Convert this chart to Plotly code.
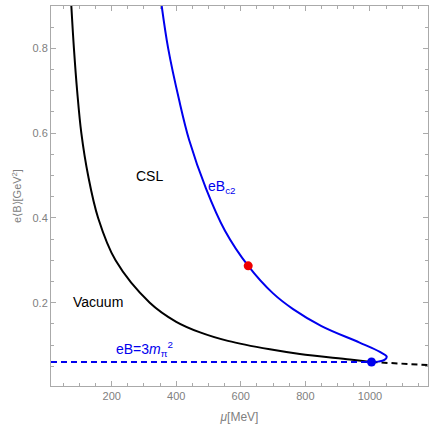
import plotly.graph_objects as go

# Vacuum / CSL boundary (black)
vac_mu = [75, 83, 93, 106, 127, 158, 212, 318, 400, 474, 560, 690, 783, 938, 1005]
vac_eB = [0.90, 0.80, 0.70, 0.60, 0.50, 0.40, 0.30, 0.20, 0.155, 0.13, 0.11, 0.09, 0.079, 0.066, 0.060]
# continuation beyond the blue point (black dashed)
vac_ext_mu = [1005, 1100, 1180]
vac_ext_eB = [0.060, 0.056, 0.053]
# eB_c2 curve (blue)
c2_mu = [355, 375, 409, 440, 492, 551, 623, 700, 762, 850, 968, 1031, 1052, 1045, 1025, 1005]
c2_eB = [0.90, 0.80, 0.678, 0.584, 0.47, 0.37, 0.287, 0.222, 0.185, 0.145, 0.106, 0.084, 0.073, 0.065, 0.061, 0.060]
# eB = 3 m_pi^2 line (blue dashed)
pion_mu = [12, 1005]
pion_eB = [0.060, 0.060]
# special points
red_pt = (623, 0.287)
blue_pt = (1005, 0.060)

fig = go.Figure()
fig.add_trace(go.Scatter(x=vac_mu, y=vac_eB, mode="lines", line=dict(color="black", width=2, shape="spline", smoothing=1)))
fig.add_trace(go.Scatter(x=vac_ext_mu, y=vac_ext_eB, mode="lines", line=dict(color="black", width=2, dash="6px,4px")))
fig.add_trace(go.Scatter(x=pion_mu, y=pion_eB, mode="lines", line=dict(color="#0000ee", width=2, dash="6px,4px")))
fig.add_trace(go.Scatter(x=c2_mu, y=c2_eB, mode="lines", line=dict(color="#0000ee", width=2, shape="spline", smoothing=1)))
fig.add_trace(go.Scatter(x=[red_pt[0]], y=[red_pt[1]], mode="markers", marker=dict(color="#ee0000", size=9)))
fig.add_trace(go.Scatter(x=[blue_pt[0]], y=[blue_pt[1]], mode="markers", marker=dict(color="#0000ee", size=9)))

font = "Liberation Sans, Arial, sans-serif"
ann = [
    dict(x=318, y=0.499, text="CSL", font=dict(size=14, color="black")),
    dict(x=158, y=0.2024, text="Vacuum", font=dict(size=14, color="black")),
    dict(x=540, y=0.473, text="eB<sub>c2</sub>", font=dict(size=14, color="#0000ee")),
    dict(x=303, y=0.062, yanchor="bottom", text="eB=3<i>m</i><sub>π</sub><sup>2</sup>", font=dict(size=14, color="#0000ee")),
]
for a in ann:
    a.update(xref="x", yref="y", showarrow=False, font=dict(family=font, **a["font"]))

axcol = "#aaaaaa"
fig.update_layout(
    width=429, height=424,
    margin=dict(l=51, r=1, t=6, b=38),
    paper_bgcolor="white", plot_bgcolor="white",
    showlegend=False,
    font=dict(family=font, size=11, color="#808080"),
    annotations=ann,
    xaxis=dict(range=[12, 1180], tickvals=[200, 400, 600, 800, 1000], showgrid=False, zeroline=False,
               showline=True, linecolor=axcol, linewidth=1, mirror="allticks",
               ticks="inside", ticklen=5, tickcolor=axcol,
               minor=dict(dtick=50, tick0=0, ticks="inside", ticklen=3, tickcolor=axcol),
               title=dict(text="<i>μ</i>[MeV]", font=dict(size=12, color="#808080"), standoff=12)),
    yaxis=dict(range=[0.0035, 0.9], tickvals=[0.2, 0.4, 0.6, 0.8], ticktext=["0.2", "0.4", "0.6", "0.8"],
               showgrid=False, zeroline=False,
               showline=True, linecolor=axcol, linewidth=1, mirror="allticks",
               ticks="inside", ticklen=5, tickcolor=axcol,
               minor=dict(dtick=0.05, tick0=0, ticks="inside", ticklen=3, tickcolor=axcol),
               title=dict(text="e⟨B⟩[GeV<sup>2</sup>]", font=dict(size=11, color="#808080"), standoff=8)),
)
fig.write_html("out.html", config={"displayModeBar": False},
               post_script="document.body.style.margin='0px';document.body.style.overflow='hidden';")
